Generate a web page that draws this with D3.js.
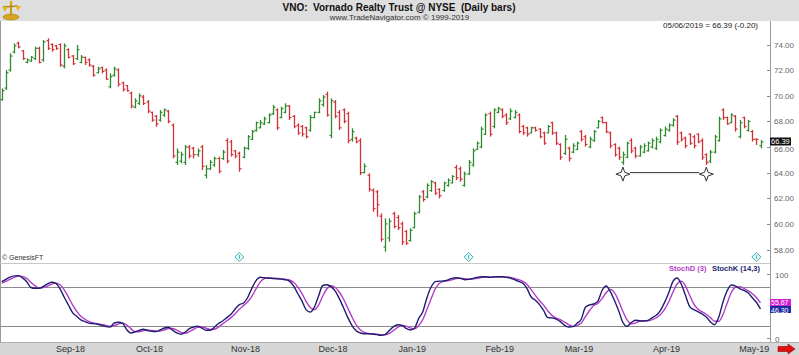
<!DOCTYPE html>
<html><head><meta charset="utf-8">
<script src="https://cdn.jsdelivr.net/npm/d3@7/dist/d3.min.js"></script>
<style>
body{margin:0;background:#fff}
svg{display:block}
text{font-family:Arial,"Liberation Sans",sans-serif}
</style>
</head><body>
<svg id="chart" width="799" height="355"></svg>
<script>
// ---------------- data ----------------
const openP = [69.7,70.6,72.0,73.4,74.1,73.5,72.6,72.7,72.9,73.7,
72.8,74.3,74.0,73.9,74.0,72.3,73.6,73.1,72.9,72.6,
73.0,72.8,72.3,71.8,72.2,72.0,70.7,71.6,72.0,71.0,
70.8,70.2,69.1,69.4,69.9,69.5,68.7,68.4,68.1,68.5,
68.8,67.7,64.8,64.9,64.8,66.0,65.9,65.4,66.0,63.8,
64.3,64.6,65.1,65.1,66.5,66.4,65.7,65.5,65.2,65.9,
66.6,67.3,67.5,67.8,67.9,68.6,68.9,68.3,68.7,69.2,
68.4,67.7,67.6,67.5,67.3,68.3,68.7,69.3,70.1,66.9,
69.5,68.7,68.9,68.6,66.6,66.7,66.5,64.0,63.8,62.6,
62.5,60.6,58.2,58.9,60.8,60.5,60.0,59.4,58.7,59.7,
60.9,62.5,62.1,62.6,63.2,62.7,62.6,63.0,63.2,64.4,
64.3,63.0,63.9,64.6,65.8,66.0,67.0,68.6,67.6,68.7,
68.9,68.5,68.2,68.3,68.5,67.6,67.5,67.1,67.5,67.4,
67.1,67.1,67.9,67.1,66.2,65.5,65.9,65.6,65.8,67.2,
66.8,66.0,66.5,67.5,68.3,67.9,67.1,66.2,65.9,64.8,
65.2,66.5,65.9,65.3,65.6,65.7,66.0,65.9,66.4,66.9,
67.3,67.7,68.4,67.1,66.7,67.0,66.8,67.0,66.5,65.4,
64.9,65.6,66.5,68.9,68.3,67.9,68.4,66.8,68.3,67.3,
67.2,66.6,66.1];
const highP = [70.58,72.01,73.31,74.09,74.22,73.57,72.92,73.10,73.83,73.83,
74.35,74.48,74.09,73.96,74.09,74.09,73.70,73.18,73.96,73.18,
73.05,72.92,72.40,72.27,72.27,72.14,71.75,72.27,72.14,71.10,
70.84,70.32,69.80,70.19,70.06,69.67,68.76,68.50,68.88,69.01,
68.88,67.84,65.89,65.63,66.15,66.15,66.02,65.89,66.16,64.59,
64.99,65.25,65.25,65.77,66.68,66.55,65.77,65.64,66.03,66.94,
67.33,67.98,68.11,68.37,68.63,69.28,69.02,69.15,69.41,69.28,
68.50,67.85,67.72,67.59,68.50,68.76,69.80,70.06,70.32,69.80,
69.67,68.89,69.02,68.76,67.46,66.81,66.68,64.72,63.94,62.77,
62.64,60.82,60.43,60.43,60.95,60.69,60.17,59.52,59.65,60.95,
62.25,62.64,63.16,63.42,63.29,62.77,63.29,63.55,63.81,64.60,
64.47,64.08,64.99,65.90,66.42,67.59,68.63,68.76,69.02,69.15,
69.02,68.63,69.02,68.89,68.63,67.72,67.59,67.59,67.59,67.46,
67.20,67.72,67.98,67.20,66.29,66.94,66.03,66.29,66.42,67.33,
66.94,66.81,67.33,68.11,68.37,67.98,67.20,66.29,66.03,65.64,
66.42,66.68,66.03,66.16,66.29,66.42,66.68,66.81,67.46,67.59,
67.85,68.24,68.50,67.20,66.81,67.07,66.94,67.07,66.68,65.51,
65.77,66.94,68.37,69.02,68.37,68.63,68.50,68.11,68.37,68.11,
67.33,66.68,66.55];
const lowP = [69.61,70.45,71.88,73.31,73.70,72.79,72.53,72.66,72.79,72.53,
72.66,73.57,73.44,73.57,72.27,72.14,72.92,72.40,72.79,72.53,
72.40,72.27,71.49,71.75,71.75,71.23,70.58,71.49,70.71,70.32,
70.32,69.02,69.02,69.28,69.28,68.63,67.97,67.58,67.97,68.36,
67.84,65.11,64.59,64.72,64.59,65.11,65.11,65.24,64.20,63.55,
64.20,64.46,63.94,64.99,64.72,65.25,65.12,64.07,65.12,65.77,
66.55,67.20,67.46,67.72,67.85,68.50,67.33,68.24,68.63,68.11,
67.46,66.94,66.81,66.68,67.20,68.24,68.63,69.15,68.37,66.68,
68.24,67.33,67.85,66.29,66.42,66.29,63.81,63.94,62.51,60.95,
60.56,58.61,57.83,58.61,59.65,59.52,58.35,58.35,58.61,59.65,
60.82,61.73,61.99,62.51,62.25,61.99,62.51,62.90,63.16,63.42,
63.29,62.90,63.81,64.47,65.77,65.90,66.94,66.81,67.46,68.63,
68.24,67.72,68.11,68.24,67.07,66.94,66.81,67.07,67.20,66.68,
66.16,67.07,66.94,66.16,64.99,65.38,64.86,65.51,65.77,66.42,
66.03,65.90,66.42,67.46,67.85,67.07,65.90,65.25,64.99,64.60,
65.12,65.51,65.12,65.25,65.51,65.64,65.90,65.77,66.29,66.81,
67.20,67.59,66.16,66.42,65.90,66.16,65.90,66.29,64.99,64.60,
64.73,65.51,66.42,68.11,67.72,67.85,67.20,66.68,67.46,67.20,
66.42,66.16,65.90];
const closeP = [70.4,71.8,73.1,73.9,73.8,72.9,72.8,73.0,73.7,72.6,
74.2,73.7,73.6,73.7,72.4,73.9,73.0,72.5,73.6,73.0,
72.6,72.4,71.6,72.1,71.9,71.3,71.5,72.1,70.9,70.5,
70.4,69.2,69.6,70.0,69.4,68.8,68.1,67.8,68.7,68.9,
68.0,65.3,65.6,65.4,66.0,65.3,65.4,65.7,64.5,64.3,
64.8,65.1,64.1,65.6,64.9,65.4,65.3,64.3,65.9,66.8,
67.2,67.9,67.9,68.2,68.5,69.1,67.5,69.0,69.2,68.3,
67.6,67.1,67.0,66.8,68.3,68.7,69.6,69.9,68.5,69.6,
68.4,67.5,68.0,66.5,67.2,66.4,64.0,64.5,62.7,61.2,
61.5,58.8,60.0,60.2,59.8,59.7,58.6,58.5,59.5,60.8,
62.1,61.9,63.0,63.3,62.4,62.2,63.2,63.4,63.7,63.6,
63.5,63.9,64.8,65.7,66.3,67.4,68.5,67.0,68.9,69.0,
68.4,67.9,68.8,68.7,67.2,67.1,67.0,67.5,67.3,66.8,
66.3,67.6,67.1,66.3,65.2,66.6,65.1,66.1,66.3,66.6,
66.2,66.6,67.2,68.0,67.9,67.2,66.1,65.4,65.2,65.4,
66.3,65.7,65.3,66.0,66.1,66.3,66.5,66.6,67.3,67.4,
67.7,68.1,66.4,66.6,66.1,66.3,66.1,66.4,65.2,64.8,
65.6,66.8,68.2,68.3,67.8,68.5,67.4,67.9,67.6,68.0,
66.6,66.59,66.39];
const stochK = [88.8,92.5,96,97.9,98.2,94.8,88.8,79.7,78.4,78.4,
81.5,85.4,88,86.2,77.4,64.4,52.4,40.4,34.7,29.2,
26.3,23.7,23.2,22.2,20.6,18.5,18,24.2,25.3,23.7,
13.8,8.6,10.4,12.8,14.4,12.3,11.2,10.9,13.3,16.4,
17.5,13,8.6,6.5,9.9,15.4,18,19.3,16.4,12.8,
12.8,17.5,23.5,27.4,32.6,37.8,46.1,52.9,55.5,64.1,
78.4,90.4,95.6,94.9,94.2,93.8,93.3,92.7,91.8,89.6,
82.3,70.3,58.9,45.1,41.2,49,66.4,82.8,84.1,81,
74,62,48,33,20.5,12,8.6,7.5,7.5,7,
6,4.9,6.5,12.7,18.5,21.6,20.5,15.9,13.3,15.9,
31,41.9,63.8,80.4,88.8,89.6,89.8,91.4,94,95,
94,91.9,92.4,94,95.5,96.6,96.6,95.5,96.1,96.6,
96.6,95.5,94.5,91.9,89.3,86.2,77.8,64.8,59.7,52.9,
43.5,32.6,32.3,30.2,26.3,20.6,18,18.5,23.7,30,
48.7,52.4,53.9,58.4,75,82,73,59,43,25,
19,24.7,28.4,27.8,27.3,28.4,32.5,36.2,44,56.5,
71.6,89.3,94.5,85.1,67.4,50.2,45,41.9,38.3,33.6,
25.8,21.6,33.6,57,74.7,83.6,82,77.8,75.2,71.6,
64,56.7,46.3];
const stochD = [86.5,89.1,92.4,95.5,97.4,97.0,93.9,87.8,82.3,78.8,
79.4,81.8,85.0,86.5,83.9,76.0,64.7,52.4,42.5,34.8,
30.1,26.4,24.4,23.0,22.0,20.4,19.0,20.2,22.5,24.4,
20.9,15.4,10.9,10.6,12.5,13.2,12.6,11.5,11.8,13.5,
15.7,15.6,13.0,9.4,8.3,10.6,14.4,17.6,17.9,16.2,
14.0,14.4,17.9,22.8,27.8,32.6,38.8,45.6,51.5,57.5,
66.0,77.6,88.1,93.6,94.9,94.3,93.8,93.3,92.6,91.4,
87.9,80.7,70.5,58.1,48.4,45.1,52.2,66.1,77.8,82.6,
79.7,72.3,61.3,47.7,33.8,21.8,13.7,9.4,7.9,7.3,
6.8,6.0,5.8,8.0,12.6,17.6,20.2,19.3,16.6,15.0,
20.1,29.6,45.6,62.0,77.7,86.3,89.4,90.3,91.7,93.5,
94.3,93.6,92.8,92.8,94.0,95.4,96.2,96.2,96.1,96.1,
96.4,96.2,95.5,94.0,91.9,89.1,84.4,76.3,67.4,59.1,
52.0,43.0,36.1,31.7,29.6,25.7,21.6,19.0,20.1,24.1,
34.1,43.7,51.7,54.9,62.4,71.8,76.7,71.3,58.3,42.3,
29.0,22.9,24.0,27.0,27.8,27.8,29.4,32.4,37.6,45.6,
57.4,72.5,85.1,89.6,82.3,67.6,54.2,45.7,41.7,37.9,
32.6,27.0,27.0,37.4,55.1,71.8,80.1,81.1,78.3,74.9,
70.3,64.1,55.67];
const monthLabels = ["Sep-18","Oct-18","Nov-18","Dec-18","Jan-19","Feb-19","Mar-19","Apr-19","May-19"];
const monthStartBar = [16,35,58,79,98,119,138,159,180];
const priceTicks = [58,60,62,64,66,68,70,72,74];
const stochTickVals = [0,100];
const stochLevels = [20,80];
const dividendBars = [57,112,181];
const supportBars = [149,169];
const supportLevel = 64.0;
const lastClose = 66.39;
const titleText = "VNO:  Vornado Realty Trust @ NYSE  (Daily bars)";
const subText = "www.TradeNavigator.com \u00A9 1999-2019";
const infoText = "05/06/2019 = 66.39 (-0.20)";

// ---------------- layout ----------------
const W = 799, H = 355;
const plotR = 770;
const svg = d3.select("#chart");
const n = closeP.length;
const x = d3.scaleLinear().domain([0, n - 1]).range([1.7, 760.5]);
const y = d3.scaleLinear().domain([58, 74]).range([249.5, 44.5]);
const ys = d3.scaleLinear().domain([0, 100]).range([338.5, 274.5]);

const UP = "#2f8a2f", DN = "#d2313a";

// backgrounds
svg.append("rect").attr("x",0).attr("y",0).attr("width",W).attr("height",H).attr("fill","#fff");
svg.append("rect").attr("x",0).attr("y",0).attr("width",W).attr("height",21).attr("fill","#dedede");
svg.append("rect").attr("x",0).attr("y",343).attr("width",W).attr("height",12).attr("fill","#d6d6d6");
svg.append("line").attr("x1",0.5).attr("x2",0.5).attr("y1",21).attr("y2",343).attr("stroke","#9a9a9a");
svg.append("line").attr("x1",plotR+0.5).attr("x2",plotR+0.5).attr("y1",21).attr("y2",343).attr("stroke","#9a9a9a");
svg.append("line").attr("x1",0).attr("x2",plotR).attr("y1",263.5).attr("y2",263.5).attr("stroke","#c8c8c8");
svg.append("line").attr("x1",0).attr("x2",W).attr("y1",342.5).attr("y2",342.5).attr("stroke","#b0b0b0");

// logo
const logo = svg.append("g").attr("transform","translate(11,11)");
logo.append("ellipse").attr("cx",0).attr("cy",6).attr("rx",8).attr("ry",3).attr("fill","#d9a520").attr("stroke","#a87a10").attr("stroke-width",0.6);
logo.append("rect").attr("x",-1).attr("y",-8).attr("width",2).attr("height",13).attr("fill","#c8961a");
logo.append("line").attr("x1",-8).attr("x2",7).attr("y1",-4).attr("y2",-5).attr("stroke","#b8860b").attr("stroke-width",1.4);
logo.append("path").attr("d","M-9,-4 L-6,1 L-3,-4 Z").attr("fill","#e8b830");
logo.append("path").attr("d","M4,-5 L7,0 L10,-5 Z").attr("fill","#e8b830");
logo.append("circle").attr("cx",0).attr("cy",-9).attr("r",1.6).attr("fill","#e0b030");

// titles
svg.append("text").attr("x",399).attr("y",11).attr("text-anchor","middle")
  .attr("font-size",10).attr("font-weight","bold").attr("fill","#111")
  .style("white-space","pre").text(titleText);
svg.append("text").attr("x",399.5).attr("y",20).attr("text-anchor","middle")
  .attr("font-size",8).attr("fill","#333").text(subText);
svg.append("text").attr("x",758).attr("y",28).attr("text-anchor","end")
  .attr("font-size",8).attr("fill","#222").text(infoText);

// last price box geometry
const boxTop = y(lastClose) - 4.5, boxBot = y(lastClose) + 3.5;

// price axis
const pAxis = svg.append("g");
priceTicks.forEach(v => {
  pAxis.append("line").attr("x1",plotR-3).attr("x2",plotR).attr("y1",Math.round(y(v))+0.5).attr("y2",Math.round(y(v))+0.5).attr("stroke","#888");
  let base = y(v) + 3;
  if (base - 6 < boxBot && base > boxTop) base = boxBot + 6.3;  // peek out below the last-price box
  pAxis.append("text").attr("x",774).attr("y",base).attr("font-size",8).attr("fill","#666").text(v.toFixed(2));
});

// bars
const bars = svg.append("g");
d3.range(n).forEach(i => {
  const col = closeP[i] >= openP[i] ? UP : DN;
  const cx = Math.round(x(i)) + 0.5;
  bars.append("line").attr("x1",cx).attr("x2",cx).attr("y1",y(highP[i])).attr("y2",y(lowP[i])).attr("stroke",col).attr("stroke-width",1.3);
  bars.append("line").attr("x1",cx-2).attr("x2",cx).attr("y1",y(openP[i])).attr("y2",y(openP[i])).attr("stroke",col).attr("stroke-width",1.2);
  bars.append("line").attr("x1",cx).attr("x2",cx+2).attr("y1",y(closeP[i])).attr("y2",y(closeP[i])).attr("stroke",col).attr("stroke-width",1.2);
});

// support line + stars
svg.append("line").attr("x1",x(supportBars[0])+7).attr("x2",x(supportBars[1])-7)
  .attr("y1",y(supportLevel)).attr("y2",y(supportLevel)).attr("stroke","#333").attr("stroke-width",1);
const starPath = "M0,-7 L1.8,-1.8 L7,0 L1.8,1.8 L0,7 L-1.8,1.8 L-7,0 L-1.8,-1.8 Z";
supportBars.forEach(b => {
  svg.append("path").attr("d",starPath)
    .attr("transform",`translate(${x(b)},${y(supportLevel)+1.5})`)
    .attr("fill","#fff").attr("stroke","#333").attr("stroke-width",1);
});

// last price box
svg.append("rect").attr("x",770).attr("y",boxTop).attr("width",21).attr("height",boxBot-boxTop).attr("fill","#111");
svg.append("text").attr("x",771).attr("y",boxBot-1.5).attr("font-size",7.5).attr("fill","#fff").text(lastClose.toFixed(2));

// dividend markers
dividendBars.forEach(b => {
  const g = svg.append("g").attr("transform",`translate(${x(b)},257)`);
  g.append("path").attr("d","M0,-4.5 L4.5,0 L0,4.5 L-4.5,0 Z").attr("fill","#eafafa").attr("stroke","#43b5b5").attr("stroke-width",1);
  g.append("line").attr("x1",0).attr("x2",0).attr("y1",-2).attr("y2",2).attr("stroke","#43b5b5").attr("stroke-width",1);
});
svg.append("text").attr("x",2).attr("y",260).attr("font-size",7).attr("fill","#333").text("\u00A9 GenesisFT");

// stochastic panel
stochLevels.forEach(v => {
  svg.append("line").attr("x1",1).attr("x2",plotR).attr("y1",Math.round(ys(v))+0.5).attr("y2",Math.round(ys(v))+0.5).attr("stroke","#8a8a8a");
});
stochTickVals.forEach(v => {
  svg.append("line").attr("x1",plotR-3).attr("x2",plotR).attr("y1",ys(v)).attr("y2",ys(v)).attr("stroke","#888");
  svg.append("text").attr("x",775).attr("y",ys(v)+3).attr("font-size",8).attr("fill","#666").text(v);
});
const lineD = d3.line().x((d,i)=>x(i)).y(d=>ys(d)).curve(d3.curveMonotoneX);
svg.append("path").attr("d",lineD(stochD)).attr("fill","none").attr("stroke","#b43cc8").attr("stroke-width",1.4);
svg.append("path").attr("d",lineD(stochK)).attr("fill","none").attr("stroke","#1e1e6e").attr("stroke-width",1.4);

// legend
svg.append("text").attr("x",669).attr("y",271).attr("font-size",7.5).attr("font-weight","bold")
  .attr("font-family","'Liberation Serif','DejaVu Serif',serif").attr("fill","#b43cc8").text("StochD (3)");
svg.append("text").attr("x",712).attr("y",271).attr("font-size",7.5).attr("font-weight","bold")
  .attr("font-family","'Liberation Serif','DejaVu Serif',serif").attr("fill","#1e1e6e").text("StochK (14,3)");

// value boxes
const lastD = stochD[n-1], lastK = stochK[n-1];
svg.append("rect").attr("x",770).attr("y",299).attr("width",21).attr("height",7).attr("fill","#d020d0");
svg.append("text").attr("x",771).attr("y",305).attr("font-size",7).attr("fill","#fff").text(lastD.toFixed(2));
svg.append("rect").attr("x",770).attr("y",306).attr("width",21).attr("height",7).attr("fill","#1f2aa8");
svg.append("text").attr("x",771).attr("y",312.5).attr("font-size",7).attr("fill","#fff").text(lastK.toFixed(2));

// x axis labels
monthLabels.forEach((m,k) => {
  svg.append("text").attr("x",x(monthStartBar[k])+2).attr("y",352).attr("text-anchor","middle")
    .attr("font-size",9).attr("font-family","'Liberation Serif','DejaVu Serif',serif").attr("fill","#333").text(m);
});

// red arrow
svg.append("path").attr("d","M778,346.5 L788,346.5 L788,344 L795,349 L788,354 L788,351.5 L778,351.5 Z")
  .attr("fill","#e01010").attr("stroke","#900").attr("stroke-width",0.6);
</script>
</body></html>
